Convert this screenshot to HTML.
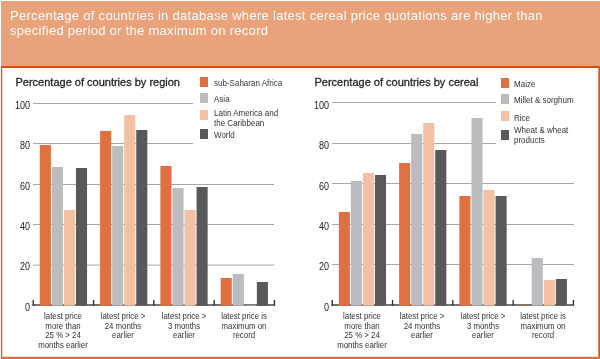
<!DOCTYPE html>
<html><head><meta charset="utf-8"><style>
html,body{margin:0;padding:0;background:#fff;}
body{width:600px;height:359px;position:relative;overflow:hidden;font-family:"Liberation Sans",sans-serif;}
svg{position:absolute;left:0;top:0;}
.t{position:absolute;white-space:nowrap;}
#txt{position:absolute;left:0;top:0;width:600px;height:359px;will-change:transform;}
.main{position:absolute;left:10px;top:8px;color:#fff;font-size:13px;line-height:15.4px;letter-spacing:0.29px;white-space:nowrap;}
.ct{position:absolute;top:74.5px;color:#262626;font-size:11px;line-height:14px;letter-spacing:0px;-webkit-text-stroke:0.3px #262626;white-space:nowrap;}
.yl{position:absolute;width:24px;text-align:right;color:#222;font-size:10px;line-height:10px;transform:scaleX(0.9);transform-origin:100% 50%;}
.xl{position:absolute;width:70px;text-align:center;color:#333;font-size:9px;line-height:9.5px;transform:scaleX(0.87);transform-origin:50% 0;}
.lg{position:absolute;color:#333;font-size:9px;line-height:10px;white-space:nowrap;transform:scaleX(0.89);transform-origin:0 0;}
</style></head><body>
<svg width="600" height="359" viewBox="0 0 600 359">
<rect x="1" y="1" width="599" height="65" fill="#EAA27B" shape-rendering="crispEdges"/>
<rect x="1" y="66" width="599" height="2" fill="#D74C16" shape-rendering="crispEdges"/>
<rect x="0.9" y="66" width="1.4" height="293" fill="#DC5F2C" shape-rendering="geometricPrecision"/>
<rect x="598.3" y="66" width="1.7" height="293" fill="#D9561F" shape-rendering="geometricPrecision"/>
<rect x="1" y="356.8" width="599" height="2.2" fill="#E26C3A" shape-rendering="geometricPrecision"/>
<rect x="33" y="103" width="160.10" height="1" fill="#A8A8A8" shape-rendering="crispEdges"/>
<rect x="33" y="143" width="160.10" height="1" fill="#A8A8A8" shape-rendering="crispEdges"/>
<rect x="33" y="184" width="241.30" height="1" fill="#A8A8A8" shape-rendering="crispEdges"/>
<rect x="33" y="224" width="241.30" height="1" fill="#A8A8A8" shape-rendering="crispEdges"/>
<rect x="33" y="264.6" width="241.30" height="1" fill="#A8A8A8"/>
<rect x="32.5" y="304.3" width="242.20" height="1.4" fill="#3a3a3a"/>
<rect x="32.60" y="300" width="1.3" height="5.6" fill="#2a2a2a"/>
<rect x="92.90" y="300" width="1.3" height="5.6" fill="#2a2a2a"/>
<rect x="153.20" y="300" width="1.3" height="5.6" fill="#2a2a2a"/>
<rect x="213.50" y="300" width="1.3" height="5.6" fill="#2a2a2a"/>
<rect x="273.80" y="300" width="1.3" height="5.6" fill="#2a2a2a"/>
<rect x="39.80" y="145" width="11.1" height="160.70" fill="#E0703F"/>
<rect x="51.85" y="167" width="11.1" height="138.70" fill="#BBBCC0"/>
<rect x="63.90" y="210" width="11.1" height="95.70" fill="#F2C1A4"/>
<rect x="75.95" y="168" width="11.1" height="137.70" fill="#59595B"/>
<rect x="100.10" y="131" width="11.1" height="174.70" fill="#E0703F"/>
<rect x="112.15" y="146" width="11.1" height="159.70" fill="#BBBCC0"/>
<rect x="124.20" y="115" width="11.1" height="190.70" fill="#F2C1A4"/>
<rect x="136.25" y="130" width="11.1" height="175.70" fill="#59595B"/>
<rect x="160.40" y="166" width="11.1" height="139.70" fill="#E0703F"/>
<rect x="172.45" y="188" width="11.1" height="117.70" fill="#BBBCC0"/>
<rect x="184.50" y="210" width="11.1" height="95.70" fill="#F2C1A4"/>
<rect x="196.55" y="187" width="11.1" height="118.70" fill="#59595B"/>
<rect x="220.70" y="278" width="11.1" height="27.70" fill="#E0703F"/>
<rect x="232.75" y="274" width="11.1" height="31.70" fill="#BBBCC0"/>
<rect x="244.80" y="304.9" width="11.1" height="0.7" fill="#F2C1A4" opacity="0.7"/>
<rect x="256.85" y="282" width="11.1" height="23.70" fill="#59595B"/>
<rect x="332" y="102" width="163.60" height="1" fill="#A8A8A8" shape-rendering="crispEdges"/>
<rect x="332" y="143" width="163.60" height="1" fill="#A8A8A8" shape-rendering="crispEdges"/>
<rect x="332" y="183" width="241.50" height="1" fill="#A8A8A8" shape-rendering="crispEdges"/>
<rect x="332" y="224" width="241.50" height="1" fill="#A8A8A8" shape-rendering="crispEdges"/>
<rect x="332" y="264" width="241.50" height="1" fill="#A8A8A8" shape-rendering="crispEdges"/>
<rect x="331.5" y="304.3" width="242.20" height="1.4" fill="#3a3a3a"/>
<rect x="331.60" y="300" width="1.3" height="5.6" fill="#2a2a2a"/>
<rect x="391.90" y="300" width="1.3" height="5.6" fill="#2a2a2a"/>
<rect x="452.20" y="300" width="1.3" height="5.6" fill="#2a2a2a"/>
<rect x="512.50" y="300" width="1.3" height="5.6" fill="#2a2a2a"/>
<rect x="572.80" y="300" width="1.3" height="5.6" fill="#2a2a2a"/>
<rect x="338.80" y="212" width="11.1" height="93.70" fill="#E0703F"/>
<rect x="350.85" y="181" width="11.1" height="124.70" fill="#BBBCC0"/>
<rect x="362.90" y="173" width="11.1" height="132.70" fill="#F2C1A4"/>
<rect x="374.95" y="175" width="11.1" height="130.70" fill="#59595B"/>
<rect x="399.10" y="163" width="11.1" height="142.70" fill="#E0703F"/>
<rect x="411.15" y="134" width="11.1" height="171.70" fill="#BBBCC0"/>
<rect x="423.20" y="123" width="11.1" height="182.70" fill="#F2C1A4"/>
<rect x="435.25" y="150" width="11.1" height="155.70" fill="#59595B"/>
<rect x="459.40" y="196" width="11.1" height="109.70" fill="#E0703F"/>
<rect x="471.45" y="118" width="11.1" height="187.70" fill="#BBBCC0"/>
<rect x="483.50" y="190" width="11.1" height="115.70" fill="#F2C1A4"/>
<rect x="495.55" y="196" width="11.1" height="109.70" fill="#59595B"/>
<rect x="519.70" y="304.9" width="11.1" height="0.7" fill="#E0703F" opacity="0.7"/>
<rect x="531.75" y="258" width="11.1" height="47.70" fill="#BBBCC0"/>
<rect x="543.80" y="280" width="11.1" height="25.70" fill="#F2C1A4"/>
<rect x="555.85" y="279" width="11.1" height="26.70" fill="#59595B"/>
</svg>
<div id="txt">
<div class="main">Percentage of countries in database where latest cereal price quotations are higher than<br>specified period or the maximum on record</div>
<div class="ct" style="left:15.5px">Percentage of countries by region</div>
<div class="ct" style="left:314.5px">Percentage of countries by cereal</div>
<div class="yl" style="left:6px;top:101.1px">100</div>
<div class="yl" style="left:6px;top:141.1px">80</div>
<div class="yl" style="left:6px;top:182.1px">60</div>
<div class="yl" style="left:6px;top:222.1px">40</div>
<div class="yl" style="left:6px;top:262.1px">20</div>
<div class="yl" style="left:6px;top:303.0px">0</div>
<div class="yl" style="left:305px;top:101.1px">100</div>
<div class="yl" style="left:305px;top:141.1px">80</div>
<div class="yl" style="left:305px;top:182.1px">60</div>
<div class="yl" style="left:305px;top:222.1px">40</div>
<div class="yl" style="left:305px;top:262.1px">20</div>
<div class="yl" style="left:305px;top:303.0px">0</div>
<div class="xl" style="left:28.15px;top:312px">latest price<br>more than<br>25 % &gt; 24<br>months earlier</div>
<div class="xl" style="left:88.44999999999999px;top:312px">latest price &gt;<br>24 months<br>earlier</div>
<div class="xl" style="left:148.75px;top:312px">latest price &gt;<br>3 months<br>earlier</div>
<div class="xl" style="left:209.04999999999998px;top:312px">latest price is<br>maximum on<br>record</div>
<div class="xl" style="left:327.15px;top:312px">latest price<br>more than<br>25 % &gt; 24<br>months earlier</div>
<div class="xl" style="left:387.45px;top:312px">latest price &gt;<br>24 months<br>earlier</div>
<div class="xl" style="left:447.75px;top:312px">latest price &gt;<br>3 months<br>earlier</div>
<div class="xl" style="left:508.04999999999995px;top:312px">latest price is<br>maximum on<br>record</div>
<div style="position:absolute;left:200px;top:77px;width:8px;height:10px;background:#E0703F"></div>
<div class="lg" style="left:214px;top:78px">sub-Saharan Africa</div>
<div style="position:absolute;left:200px;top:93px;width:8px;height:10px;background:#BBBCC0"></div>
<div class="lg" style="left:214px;top:94px">Asia</div>
<div style="position:absolute;left:200px;top:110px;width:8px;height:10px;background:#F2C1A4"></div>
<div class="lg" style="left:214px;top:108px">Latin America and<br>the Caribbean</div>
<div style="position:absolute;left:200px;top:129px;width:8px;height:10px;background:#59595B"></div>
<div class="lg" style="left:214px;top:130px">World</div>
<div style="position:absolute;left:501px;top:78px;width:8px;height:10px;background:#E0703F"></div>
<div class="lg" style="left:514px;top:79px">Maize</div>
<div style="position:absolute;left:501px;top:94px;width:8px;height:10px;background:#BBBCC0"></div>
<div class="lg" style="left:514px;top:95px">Millet &amp; sorghum</div>
<div style="position:absolute;left:501px;top:111px;width:8px;height:10px;background:#F2C1A4"></div>
<div class="lg" style="left:514px;top:113px">Rice</div>
<div style="position:absolute;left:501px;top:130px;width:8px;height:10px;background:#59595B"></div>
<div class="lg" style="left:514px;top:125px">Wheat &amp; wheat<br>products</div>
</div>
</body></html>
